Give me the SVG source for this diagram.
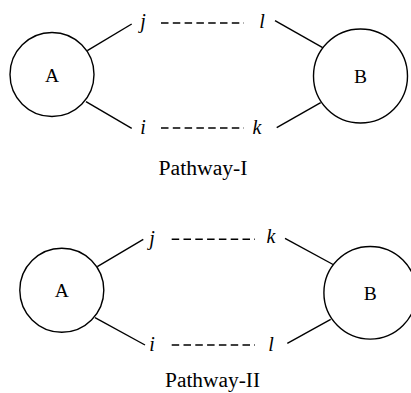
<svg xmlns="http://www.w3.org/2000/svg" width="411" height="393" viewBox="0 0 411 393">
<style>
.node{fill:#fff;stroke:#000;stroke-width:1.4}
.ln{stroke:#000;stroke-width:1.4;fill:none}
.dash{stroke:#000;stroke-width:1.6;fill:none;stroke-dasharray:7.5 4.3}
.lbl{font-family:"Liberation Serif",serif;font-size:19.5px;fill:#000;text-anchor:middle}
.it{font-family:"Liberation Serif",serif;font-style:italic;font-size:20px;fill:#000;text-anchor:middle}
.cap{font-family:"Liberation Serif",serif;font-size:20px;fill:#000;text-anchor:middle}
</style>
<rect width="411" height="393" fill="#fff"/>
<g id="connectors">
<line class="ln" x1="87.3" y1="50.7" x2="131.7" y2="24"/>
<line class="ln" x1="86" y1="101.7" x2="131.7" y2="128.3"/>
<line class="dash" x1="161" y1="23" x2="244" y2="23"/>
<line class="dash" x1="161" y1="128" x2="244" y2="128"/>
<line class="ln" x1="275" y1="20.7" x2="322.7" y2="47.7"/>
<line class="ln" x1="276.7" y1="127.7" x2="320.7" y2="102.7"/>
<line class="ln" x1="97.3" y1="266.7" x2="143.3" y2="239.3"/>
<line class="ln" x1="95" y1="317.7" x2="145" y2="345"/>
<line class="dash" x1="171.7" y1="239.3" x2="255" y2="239.3"/>
<line class="dash" x1="171.7" y1="345" x2="255" y2="345"/>
<line class="ln" x1="285" y1="238.3" x2="334" y2="265"/>
<line class="ln" x1="287.3" y1="343.3" x2="330.7" y2="319.3"/>
</g>
<g id="p1-A"><circle class="node" cx="52" cy="74.5" r="42"/><text class="lbl" x="52" y="81.5">A</text></g>
<g id="p1-B"><circle class="node" cx="360.5" cy="76" r="47"/><text class="lbl" x="360.5" y="83">B</text></g>
<g id="p1-j"><text class="it" x="143" y="28">j</text></g>
<g id="p1-i"><text class="it" x="143" y="134">i</text></g>
<g id="p1-l"><text class="it" x="262" y="28">l</text></g>
<g id="p1-k"><text class="it" x="257" y="134">k</text></g>
<text class="cap" x="203" y="174.5" textLength="89" lengthAdjust="spacingAndGlyphs">Pathway-I</text>
<g id="p2-A"><circle class="node" cx="61.8" cy="290.3" r="42"/><text class="lbl" x="61.8" y="297.3">A</text></g>
<g id="p2-B"><circle class="node" cx="370.2" cy="292.8" r="46.3"/><text class="lbl" x="370.2" y="299.8">B</text></g>
<g id="p2-j"><text class="it" x="152" y="245">j</text></g>
<g id="p2-i"><text class="it" x="152" y="351">i</text></g>
<g id="p2-k"><text class="it" x="271" y="243">k</text></g>
<g id="p2-l"><text class="it" x="271" y="351">l</text></g>
<text class="cap" x="212.5" y="387" textLength="95" lengthAdjust="spacingAndGlyphs">Pathway-II</text>
</svg>
